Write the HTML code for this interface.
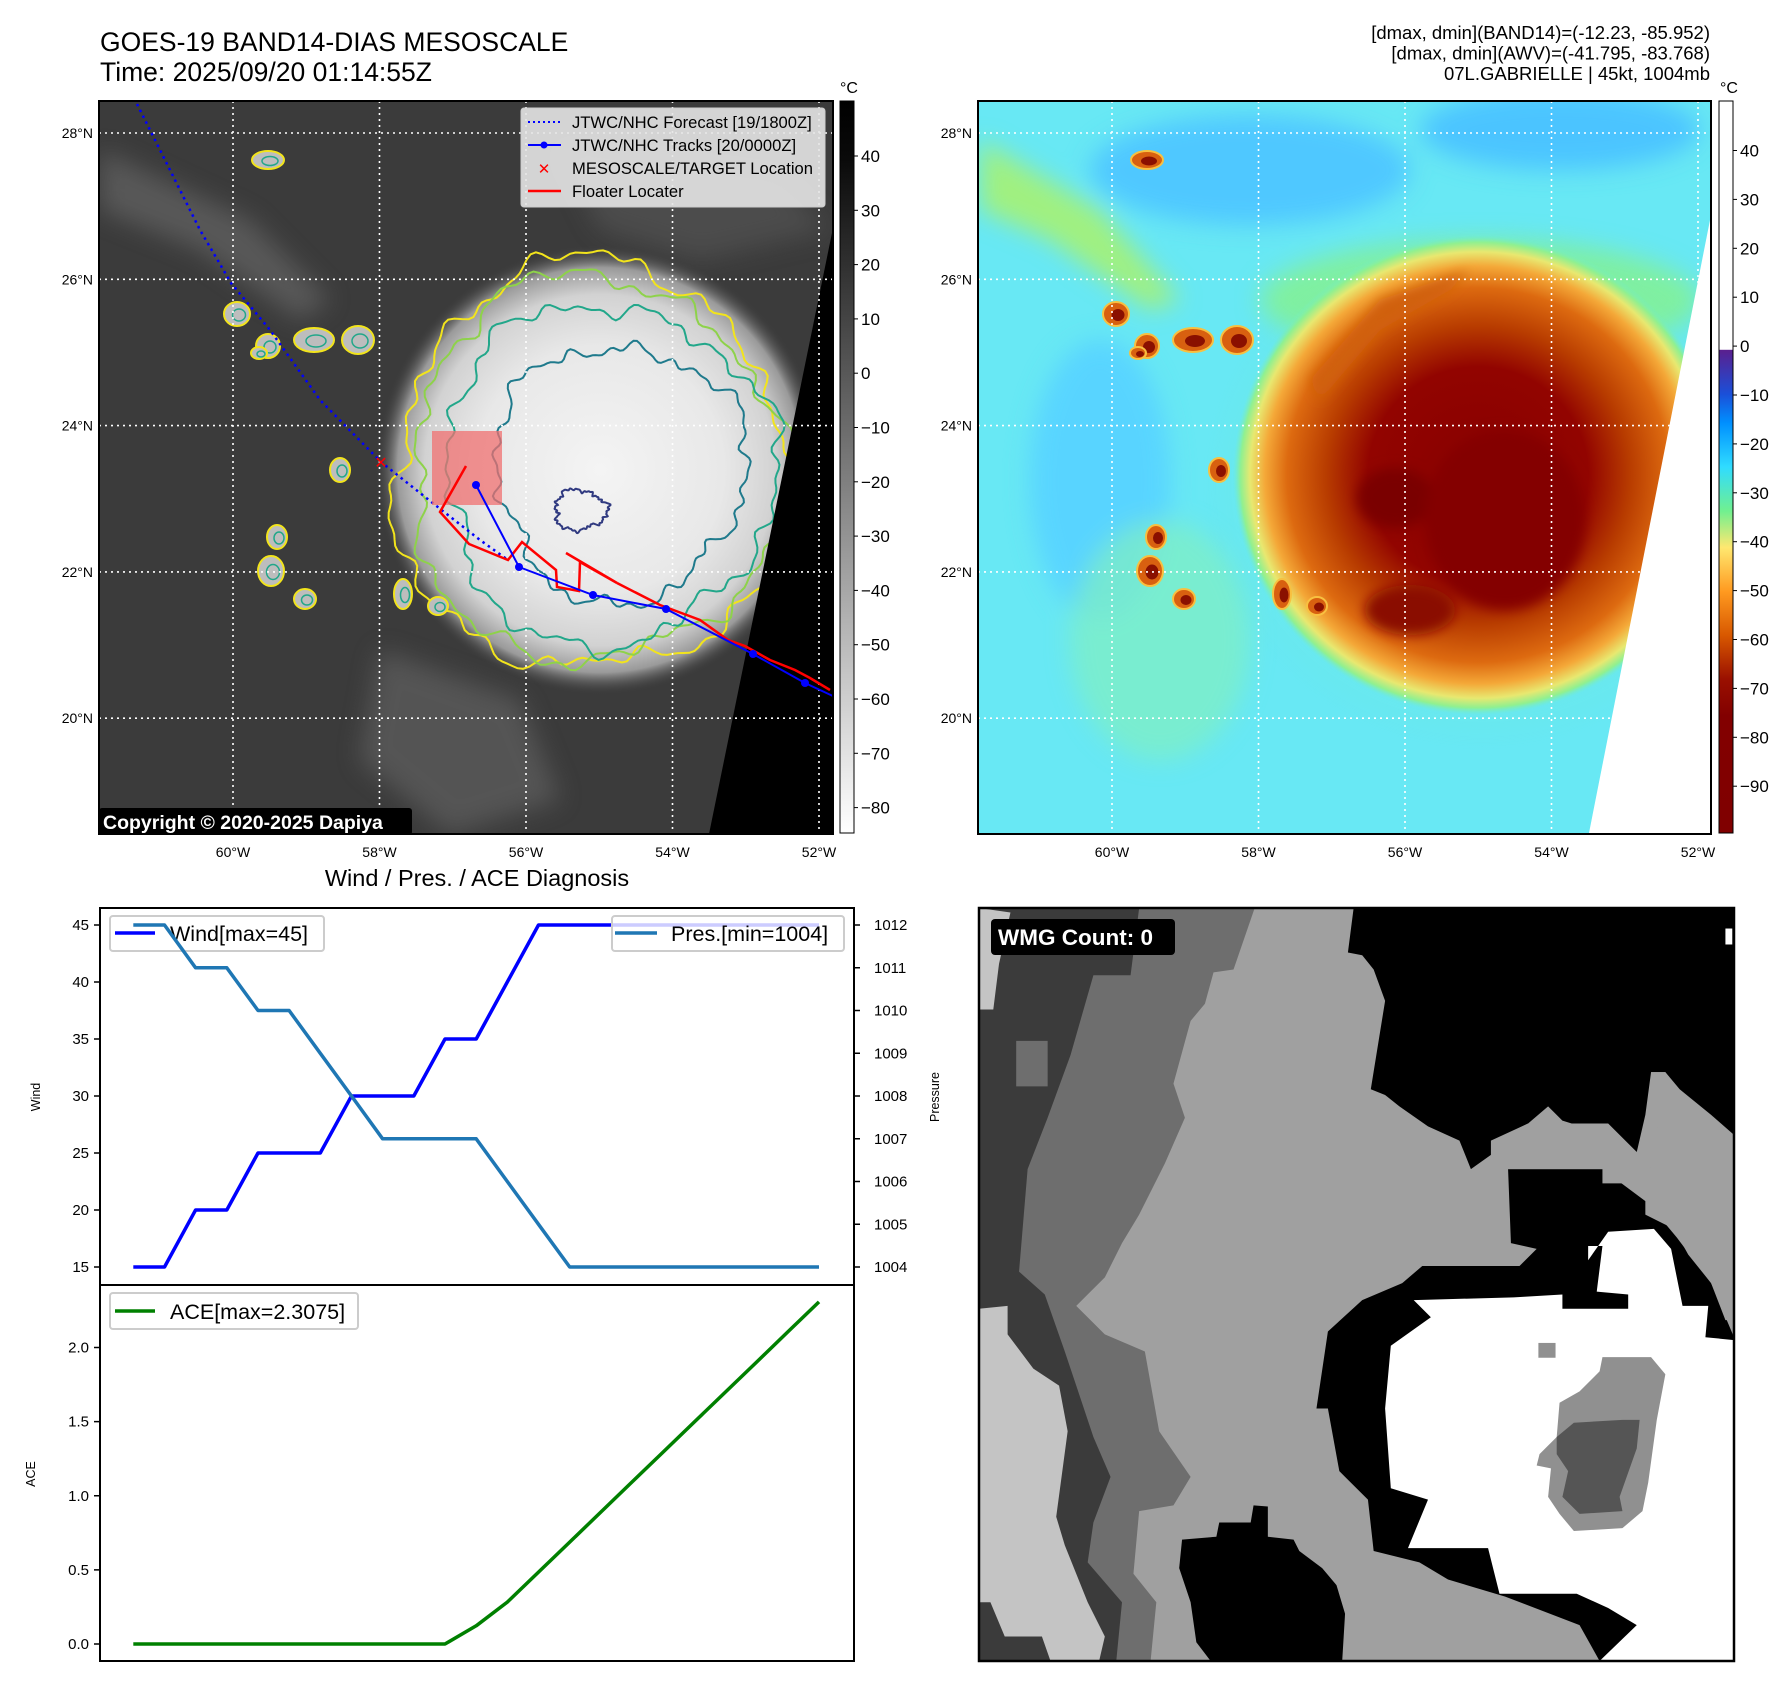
<!DOCTYPE html>
<html><head><meta charset="utf-8">
<style>
html,body{margin:0;padding:0;background:#fff;}
svg{display:block;font-family:"Liberation Sans","DejaVu Sans",sans-serif;}
</style></head>
<body>
<svg id="root" width="1792" height="1690" viewBox="0 0 1792 1690" xmlns="http://www.w3.org/2000/svg">
<defs>
  <clipPath id="clipL"><rect x="99" y="101" width="734" height="733"/></clipPath>
  <clipPath id="clipR"><rect x="978" y="101" width="733" height="733"/></clipPath>
  <clipPath id="clipW"><rect x="979" y="908" width="755" height="753"/></clipPath>
  <radialGradient id="stormL" cx="0.5" cy="0.5" r="0.5">
    <stop offset="0" stop-color="#f4f4f4"/>
    <stop offset="0.55" stop-color="#e8e8e8"/>
    <stop offset="0.78" stop-color="#d2d2d2"/>
    <stop offset="0.9" stop-color="#9a9a9a"/>
    <stop offset="1" stop-color="#3c3c3c" stop-opacity="0"/>
  </radialGradient>
  <radialGradient id="stormR" cx="0.5" cy="0.5" r="0.5">
    <stop offset="0" stop-color="#880000"/>
    <stop offset="0.45" stop-color="#920400"/>
    <stop offset="0.62" stop-color="#b83c00"/>
    <stop offset="0.78" stop-color="#dd6a10"/>
    <stop offset="0.87" stop-color="#f4a838"/>
    <stop offset="0.93" stop-color="#e8e870"/>
    <stop offset="0.97" stop-color="#90f090"/>
    <stop offset="1" stop-color="#70eccc" stop-opacity="0"/>
  </radialGradient>
  <radialGradient id="haloR" cx="0.5" cy="0.5" r="0.5">
    <stop offset="0" stop-color="#90f080"/>
    <stop offset="1" stop-color="#70f0d0" stop-opacity="0"/>
  </radialGradient>
  <linearGradient id="cbL" x1="0" y1="0" x2="0" y2="1">
    <stop offset="0" stop-color="#000"/>
    <stop offset="0.08" stop-color="#0a0a0a"/>
    <stop offset="1" stop-color="#fff"/>
  </linearGradient>
  <linearGradient id="cbR" x1="0" y1="0" x2="0" y2="1">
    <stop offset="0" stop-color="#ffffff"/>
    <stop offset="0.3397" stop-color="#ffffff"/>
    <stop offset="0.34" stop-color="#5a1f8e"/>
    <stop offset="0.40" stop-color="#1b4fd8"/>
    <stop offset="0.44" stop-color="#0090ff"/>
    <stop offset="0.50" stop-color="#30dcff"/>
    <stop offset="0.56" stop-color="#70f090"/>
    <stop offset="0.61" stop-color="#ffe870"/>
    <stop offset="0.67" stop-color="#ff9a20"/>
    <stop offset="0.73" stop-color="#d85800"/>
    <stop offset="0.79" stop-color="#9a1000"/>
    <stop offset="0.84" stop-color="#820000"/>
    <stop offset="1" stop-color="#800000"/>
  </linearGradient>
  <filter id="blur6"><feGaussianBlur stdDeviation="6"/></filter>
  <filter id="blur12"><feGaussianBlur stdDeviation="12"/></filter>
</defs>

<text x="100" y="51" font-size="26.5" fill="#000">GOES-19 BAND14-DIAS MESOSCALE</text>
<text x="100" y="81" font-size="26.5" fill="#000">Time: 2025/09/20 01:14:55Z</text>
<g font-size="18.5" text-anchor="end" fill="#000">
  <text x="1710" y="39">[dmax, dmin](BAND14)=(-12.23, -85.952)</text>
  <text x="1710" y="59.5">[dmax, dmin](AWV)=(-41.795, -83.768)</text>
  <text x="1710" y="80">07L.GABRIELLE | 45kt, 1004mb</text>
</g>

<g id="mapL" clip-path="url(#clipL)">
  <rect x="99" y="101" width="734" height="733" fill="#3b3b3b"/>
  <g filter="url(#blur12)" opacity="0.55">
    <path d="M100 150 L250 220 L330 300 L300 320 L200 250 L100 210Z" fill="#707070"/>
    <path d="M380 650 L520 700 L560 800 L450 834 L360 760Z" fill="#6a6a6a"/>
    <path d="M560 150 L780 180 L830 230 L700 260 L600 230Z" fill="#5a5a5a"/>
  </g>
  <ellipse cx="600" cy="470" rx="225" ry="225" fill="url(#stormL)"/>
  <g id="contoursL" fill="none" stroke-width="2"></g>
  <g id="cellsL"></g>
  <polygon points="833,228 840,228 840,840 709,840 709,834" fill="#000"/>
  <g id="gridL" stroke="#fff" stroke-width="1.6" stroke-dasharray="2,4"></g>
  <polyline points="137,104 170,170 200,230 231,283 270,330 320,400 381,462 439,508 480,540 508,560" fill="none" stroke="#0000ff" stroke-width="2.5" stroke-dasharray="2.5,4"/>
  <rect x="432" y="431" width="70" height="74" fill="#f07070" fill-opacity="0.75"/>
  <polyline points="466,466 440,512 469,544 508,560 522,542 556,570 557,587 579,591 580,562 617,583 566,553" fill="none" stroke="#ff0000" stroke-width="2.5"/>
  <polyline points="617,583 660,605 700,620 728,640 745,646 770,660 795,670 810,678 830,690" fill="none" stroke="#ff0000" stroke-width="2.5"/>
  <polyline points="476,485 519,567 593,595 666,609 753,654 805,683 835,697" fill="none" stroke="#0000ff" stroke-width="2"/>
  <g fill="#0000ff"><circle cx="476" cy="485" r="4"/><circle cx="519" cy="567" r="4"/><circle cx="593" cy="595" r="4"/><circle cx="666" cy="609" r="4"/><circle cx="753" cy="654" r="4"/><circle cx="805" cy="683" r="4"/></g>
  <text x="381" y="468" font-size="16" font-weight="bold" fill="#ff0000" text-anchor="middle">✕</text>
  <g>
    <rect x="521" y="108" width="304" height="99" rx="3" fill="#e6e6e6" fill-opacity="0.9" stroke="#cccccc"/>
    <line x1="528" y1="122" x2="561" y2="122" stroke="#0000ff" stroke-width="2" stroke-dasharray="2,3"/>
    <line x1="528" y1="145" x2="561" y2="145" stroke="#0000ff" stroke-width="2"/><circle cx="544" cy="145" r="3.5" fill="#0000ff"/>
    <text x="544" y="174" font-size="15" font-weight="bold" fill="#ff0000" text-anchor="middle">✕</text>
    <line x1="528" y1="191" x2="561" y2="191" stroke="#ff0000" stroke-width="2.5"/>
    <g font-size="16.6" fill="#000">
      <text x="572" y="128">JTWC/NHC Forecast [19/1800Z]</text>
      <text x="572" y="151">JTWC/NHC Tracks [20/0000Z]</text>
      <text x="572" y="174">MESOSCALE/TARGET Location</text>
      <text x="572" y="197">Floater Locater</text>
    </g>
  </g>
  <rect x="99" y="808" width="313" height="27" rx="3" fill="#000"/>
  <text x="103" y="829" font-size="19.5" font-weight="bold" fill="#fff">Copyright © 2020-2025 Dapiya</text>
</g>
<rect x="99" y="101" width="734" height="733" fill="none" stroke="#000" stroke-width="2"/>
<g id="ticksL" font-size="14" fill="#000"></g>
<rect x="840" y="101" width="14" height="732" fill="url(#cbL)" stroke="#000" stroke-width="1"/>
<text x="849" y="93" font-size="16" text-anchor="middle">°C</text>
<g id="cbTicksL" font-size="17" fill="#000"></g>

<g id="mapR" clip-path="url(#clipR)">
  <rect x="978" y="101" width="733" height="733" fill="#68e8f4"/>
  <g filter="url(#blur12)">
    <ellipse cx="1250" cy="170" rx="160" ry="55" fill="#50c8ff"/>
    <ellipse cx="1560" cy="130" rx="140" ry="40" fill="#4cc4ff"/>
    <ellipse cx="1100" cy="480" rx="70" ry="140" fill="#58d4ff"/>
    <path d="M980 140 L1100 210 L1180 300 L1150 310 L1050 240 L980 210Z" fill="#a0f080"/>
    <ellipse cx="1480" cy="300" rx="220" ry="60" fill="#80f0a0"/>
    <ellipse cx="1160" cy="640" rx="90" ry="120" fill="#80f0c0" opacity="0.7"/>
  </g>
  <ellipse cx="1482" cy="485" rx="280" ry="265" fill="url(#haloR)" opacity="0.8"/>
  <ellipse cx="1478" cy="475" rx="245" ry="240" fill="url(#stormR)"/>
  <g filter="url(#blur6)">
    <ellipse cx="1395" cy="498" rx="38" ry="30" fill="#7a0000"/>
    <ellipse cx="1505" cy="520" rx="80" ry="90" fill="#840000"/>
    <ellipse cx="1410" cy="610" rx="45" ry="25" fill="#8a1000"/>
    <path d="M1310 380 L1380 300 L1470 270 L1450 290 L1380 330 L1320 400Z" fill="#d06010"/>
  </g>
  <g id="cellsR"></g>
  <polygon points="1711,215 1715,215 1715,840 1589,840 1589,833" fill="#fff"/>
  <g id="gridR" stroke="#fff" stroke-width="1.6" stroke-dasharray="2,4"></g>
</g>
<rect x="978" y="101" width="733" height="733" fill="none" stroke="#000" stroke-width="2"/>
<g id="ticksR" font-size="14" fill="#000"></g>
<rect x="1719" y="101" width="14" height="732" fill="url(#cbR)" stroke="#000" stroke-width="1"/>
<text x="1729" y="93" font-size="16" text-anchor="middle">°C</text>
<g id="cbTicksR" font-size="17" fill="#000"></g>

<text x="477" y="886" font-size="23.5" text-anchor="middle">Wind / Pres. / ACE Diagnosis</text>
<g id="chart"></g>

<g clip-path="url(#clipW)">
  <svg x="979" y="908" width="755" height="753" viewBox="130 182 1320 1321" preserveAspectRatio="none">
    <rect x="130" y="182" width="1320" height="1321" fill="#a0a0a0"/>
    <polygon fill="#6e6e6e" points="130,182 612,182 575,290 540,295 525,350 500,380 470,490 490,550 455,630 410,720 380,770 350,830 300,880 350,930 420,960 445,1100 500,1180 470,1230 410,1240 400,1350 440,1400 430,1503 130,1503"/>
    <polygon fill="#3b3b3b" points="130,182 410,182 395,300 330,300 290,440 250,550 215,640 200,820 245,860 280,960 300,1020 330,1110 360,1180 330,1260 320,1330 380,1400 370,1503 130,1503"/>
    <polygon fill="#6e6e6e" points="195,415 250,415 250,495 195,495"/>
    <polygon fill="#c4c4c4" points="130,885 180,880 180,930 225,990 270,1020 285,1100 265,1250 280,1300 320,1400 350,1460 340,1503 255,1503 240,1460 175,1460 150,1400 130,1400"/>
    <polygon fill="#c4c4c4" points="130,182 185,190 165,280 155,360 130,360"/>
    <polygon fill="#000" points="785,182 1450,182 1450,580 1410,545 1355,500 1330,470 1305,470 1295,545 1280,610 1230,580 1150,555 1125,530 1090,560 1025,590 1025,615 990,640 970,590 915,565 865,530 840,510 815,500 840,345 820,290 800,265 775,260"/>
    <polygon fill="#000" points="905,810 1075,810 1105,780 1060,770 1055,640 1220,640 1300,700 1350,760 1410,840 1450,935 1450,1503 1215,1503 1180,1440 1050,1390 950,1360 900,1330 820,1310 810,1220 760,1170 740,1060 720,1060 740,925 800,870 870,840"/>
    <polygon fill="#a0a0a0" points="1030,590 1090,560 1230,560 1280,610 1270,665 1220,665 1220,640 1050,640"/>
    <polygon fill="#a0a0a0" points="1305,470 1330,470 1360,525 1410,550 1450,580 1450,905 1435,905 1410,840 1370,790 1345,745 1295,720 1295,690 1320,545"/>
    <polygon fill="#fff" points="1230,750 1310,745 1340,780 1360,880 1405,880 1400,935 1450,940 1450,1503 1215,1503 1280,1440 1230,1410 1175,1385 1040,1385 1020,1305 880,1305 915,1220 850,1200 840,1060 850,950 920,900 890,870 1065,865 1150,860 1150,885 1265,885 1265,860 1210,855 1220,775 1195,775 1195,800"/>
    <polygon fill="#909090" points="1145,1050 1180,1030 1215,995 1220,970 1305,970 1330,1000 1315,1080 1300,1190 1290,1240 1255,1270 1170,1275 1145,1245 1125,1215 1130,1165 1105,1160 1110,1140 1140,1110"/>
    <polygon fill="#555" points="1170,1085 1255,1080 1285,1080 1280,1130 1250,1215 1255,1240 1180,1245 1150,1215 1160,1170 1140,1140 1140,1110"/>
    <rect x="1108" y="945" width="30" height="26" fill="#909090"/>
    <polygon fill="#000" points="610,1230 635,1232 635,1285 680,1290 690,1310 730,1340 755,1370 770,1420 765,1503 535,1503 510,1470 500,1400 480,1340 485,1290 545,1285 550,1260 605,1260"/>
    <rect x="1435" y="218" width="12" height="28" fill="#fff"/>
  </svg>
  <rect x="991" y="919" width="184" height="36" rx="4" fill="#000"/>
  <text x="998" y="945" font-size="22.5" font-weight="bold" fill="#fff">WMG Count: 0</text>
</g>
<rect x="979" y="908" width="755" height="753" fill="none" stroke="#000" stroke-width="2.5"/>

<script>
const windVals = [15,15,20,20,25,25,25,30,30,30,35,35,40,45,45,45,45,45,45,45,45,45,45];
const presVals = [1012,1012,1011,1011,1010,1010,1009,1008,1007,1007,1007,1007,1006,1005,1004,1004,1004,1004,1004,1004,1004,1004,1004];
const aceVals = [0,0,0,0,0,0,0,0,0,0,0,0.1225,0.2825,0.485,0.6875,0.89,1.0925,1.295,1.4975,1.7,1.9025,2.105,2.3075];
const windTicks = [15,20,25,30,35,40,45];
const presTicks = [1004,1005,1006,1007,1008,1009,1010,1011,1012];
const aceTicks = ["0.0","0.5","1.0","1.5","2.0"];
const latLabels = ["20°N","22°N","24°N","26°N","28°N"];
const latVals = [20,22,24,26,28];
const lonLabels = ["60°W","58°W","56°W","54°W","52°W"];
const lonVals = [60,58,56,54,52];
const cbLTicks = [40,30,20,10,0,-10,-20,-30,-40,-50,-60,-70,-80];
const cbRTicks = [40,30,20,10,0,-10,-20,-30,-40,-50,-60,-70,-80,-90];

const NS = "http://www.w3.org/2000/svg";
function mk(tag, attrs, parent, txt){
  const e = document.createElementNS(NS, tag);
  for (const k in attrs) e.setAttribute(k, attrs[k]);
  if (txt !== undefined) e.textContent = txt;
  parent.appendChild(e);
  return e;
}
const xIdx = i => 133.3 + i * (819 - 133.3) / 22;
const yWind = v => 925 + (45 - v) * (1267 - 925) / 30;
const yPres = v => 925 + (1012 - v) * (1267 - 925) / 8;
const yAce = v => 1644 - v * (1644 - 1347.5) / 2;
const latY = lat => 133 + (28 - lat) * 73.15;
const lonXL = lon => 233 + (60 - lon) * 73.25;
const cbLY = v => 156 + (40 - v) * 5.43;
const cbRY = v => 150.5 + (40 - v) * 4.89;

const gridL = document.getElementById('gridL');
const gridR = document.getElementById('gridR');
const ticksL = document.getElementById('ticksL');
const ticksR = document.getElementById('ticksR');
latVals.forEach((lat, i) => {
  const y = latY(lat);
  const g1 = mk('line', {x1:99, x2:833, y1:y, y2:y}, gridL);
  
  
  const g2 = mk('line', {x1:978, x2:1711, y1:y, y2:y}, gridR);
  
  
  const t1 = mk('text', {x:93, y:y+5, 'text-anchor':'end'}, ticksL, latLabels[i]);
  
  
  const t2 = mk('text', {x:972, y:y+5, 'text-anchor':'end'}, ticksR, latLabels[i]);
  
  
});
lonVals.forEach((lon, i) => {
  const x = lonXL(lon);
  const g1 = mk('line', {x1:x, x2:x, y1:101, y2:834}, gridL);
  
  
  const g2 = mk('line', {x1:x+879, x2:x+879, y1:101, y2:834}, gridR);
  
  
  const t1 = mk('text', {x:x, y:857, 'text-anchor':'middle'}, ticksL, lonLabels[i]);
  
  
  const t2 = mk('text', {x:x+879, y:857, 'text-anchor':'middle'}, ticksR, lonLabels[i]);
  
  
});
const cbL = document.getElementById('cbTicksL');
cbLTicks.forEach(v => {
  const y = cbLY(v);
  mk('line', {x1:854, x2:858, y1:y, y2:y, stroke:'#000'}, cbL);
  const t = mk('text', {x:861, y:y+6}, cbL, v < 0 ? '\u2212' + Math.abs(v) : String(v));
  
  
});
const cbR = document.getElementById('cbTicksR');
cbRTicks.forEach(v => {
  const y = cbRY(v);
  mk('line', {x1:1733, x2:1737, y1:y, y2:y, stroke:'#000'}, cbR);
  const t = mk('text', {x:1740, y:y+6}, cbR, v < 0 ? '\u2212' + Math.abs(v) : String(v));
  
  
});

function wob(cx, cy, rx, ry, seed, amp){
  let d = '';
  for (let i = 0; i <= 240; i++){
    const a = i / 240 * Math.PI * 2;
    const r = 1 + amp * (0.5*Math.sin(3*a+seed) + 0.3*Math.sin(7*a+2*seed) + 0.25*Math.sin(13*a+3*seed) + 0.2*Math.sin(23*a+seed) + 0.15*Math.sin(37*a+2*seed));
    const x = cx + rx * r * Math.cos(a), y = cy + ry * r * Math.sin(a);
    d += (i ? 'L' : 'M') + x.toFixed(1) + ' ' + y.toFixed(1);
  }
  return d + 'Z';
}
const cg = document.getElementById('contoursL');
[[592,468,198,204,0.3,0.09,'#f2e41c'],[596,470,186,192,1.1,0.09,'#8ed24a'],[608,474,165,170,2.0,0.1,'#22a78a'],[620,472,125,128,2.7,0.11,'#1f7a8c'],[580,510,26,20,1.5,0.18,'#303a80']].forEach(c => {
  const p = mk('path', {d: wob(c[0],c[1],c[2],c[3],c[4],c[5]), stroke:c[6]}, cg);
  
  
});
const cellsL = document.getElementById('cellsL');
const cellsR = document.getElementById('cellsR');
[[268,160,16,9],[237,314,13,12],[268,346,12,12],[314,340,20,12],[358,340,16,14],[340,470,10,12],[277,537,10,12],[271,571,13,15],[305,599,11,10],[403,594,9,15],[438,606,10,9],[259,353,8,6]].forEach((c,i) => {
  const e = mk('ellipse', {cx:c[0], cy:c[1], rx:c[2], ry:c[3], fill:'#bdbdbd', stroke:'#f2e41c', 'stroke-width':2}, cellsL);
  
  
  mk('ellipse', {cx:c[0]+2, cy:c[1]+1, rx:c[2]*0.5, ry:c[3]*0.5, fill:'none', stroke:'#22a78a', 'stroke-width':1.5}, cellsL);
  const r = mk('ellipse', {cx:c[0]+879, cy:c[1], rx:c[2], ry:c[3], fill:'#d86010', stroke:'#f8c040', 'stroke-width':2}, cellsR);
  
  
  mk('ellipse', {cx:c[0]+881, cy:c[1]+1, rx:c[2]*0.5, ry:c[3]*0.5, fill:'#8a1000'}, cellsR);
});

const ch = document.getElementById('chart');
const frame1 = mk('rect', {x:100, y:908, width:754, height:377, fill:'#fff', stroke:'#000', 'stroke-width':2}, ch);


const frame2 = mk('rect', {x:100, y:1285, width:754, height:376, fill:'#fff', stroke:'#000', 'stroke-width':2}, ch);



windTicks.forEach(v => {
  const y = yWind(v);
  mk('line', {x1:94, x2:100, y1:y, y2:y, stroke:'#000', 'stroke-width':1.5}, ch);
  const t = mk('text', {x:89, y:y+5, 'font-size':15, 'text-anchor':'end'}, ch, String(v));
  
  
});
presTicks.forEach(v => {
  const y = yPres(v);
  mk('line', {x1:854, x2:860, y1:y, y2:y, stroke:'#000', 'stroke-width':1.5}, ch);
  const t = mk('text', {x:874, y:y+5, 'font-size':15}, ch, String(v));
  
  
});
aceTicks.forEach(s => {
  const y = yAce(parseFloat(s));
  mk('line', {x1:94, x2:100, y1:y, y2:y, stroke:'#000', 'stroke-width':1.5}, ch);
  const t = mk('text', {x:89, y:y+5, 'font-size':15, 'text-anchor':'end'}, ch, s);
  
  
});
const yl1 = mk('text', {x:0, y:0, 'font-size':12.5, 'text-anchor':'middle', transform:'translate(40,1097) rotate(-90)'}, ch, 'Wind');


const yl2 = mk('text', {x:0, y:0, 'font-size':12.5, 'text-anchor':'middle', transform:'translate(939,1097) rotate(-90)'}, ch, 'Pressure');


const yl3 = mk('text', {x:0, y:0, 'font-size':12.5, 'text-anchor':'middle', transform:'translate(35,1474) rotate(-90)'}, ch, 'ACE');



function pts(vals, yf){ return vals.map((v,i) => xIdx(i).toFixed(1) + ',' + yf(v).toFixed(1)).join(' '); }

const lg1 = mk('g', {}, ch);


mk('rect', {x:110, y:916, width:214, height:35, rx:3, fill:'#fff', 'fill-opacity':0.8, stroke:'#cccccc', 'stroke-width':2}, lg1);
mk('line', {x1:115, x2:155, y1:933, y2:933, stroke:'#0000ff', 'stroke-width':3.5}, lg1);
mk('text', {x:170, y:941, 'font-size':21.5}, lg1, 'Wind[max=45]');

const wl = mk('polyline', {points: pts(windVals, yWind), fill:'none', stroke:'#0000ff', 'stroke-width':3.5, 'stroke-linejoin':'round'}, ch);


const pl = mk('polyline', {points: pts(presVals, yPres), fill:'none', stroke:'#1f77b4', 'stroke-width':3.5, 'stroke-linejoin':'round'}, ch);



const lg2 = mk('g', {}, ch);


mk('rect', {x:612, y:916, width:232, height:35, rx:3, fill:'#fff', 'fill-opacity':0.8, stroke:'#cccccc', 'stroke-width':2}, lg2);
mk('line', {x1:615, x2:657, y1:933, y2:933, stroke:'#1f77b4', 'stroke-width':3.5}, lg2);
mk('text', {x:671, y:941, 'font-size':21.5}, lg2, 'Pres.[min=1004]');

const al = mk('polyline', {points: pts(aceVals, yAce), fill:'none', stroke:'#008000', 'stroke-width':3.5, 'stroke-linejoin':'round'}, ch);


const lg3 = mk('g', {}, ch);


mk('rect', {x:110, y:1293, width:248, height:36, rx:3, fill:'#fff', 'fill-opacity':0.8, stroke:'#cccccc', 'stroke-width':2}, lg3);
mk('line', {x1:115, x2:155, y1:1311, y2:1311, stroke:'#008000', 'stroke-width':3.5}, lg3);
mk('text', {x:170, y:1319, 'font-size':21.5}, lg3, 'ACE[max=2.3075]');
</script>
</body></html>
